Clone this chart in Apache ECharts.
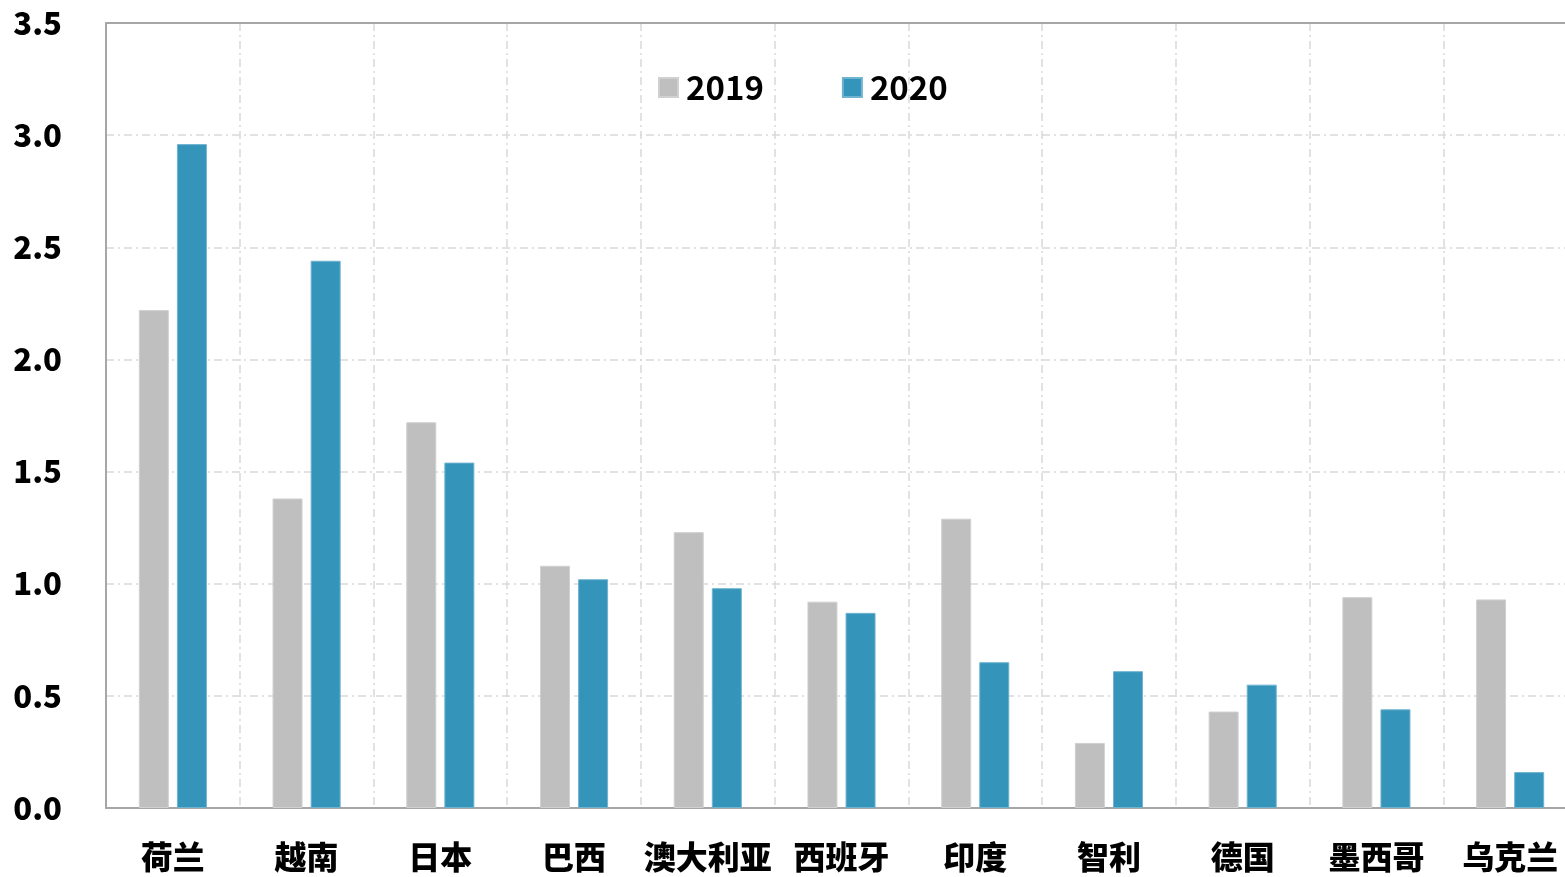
<!DOCTYPE html>
<html>
<head>
<meta charset="utf-8">
<script src="https://cdn.jsdelivr.net/npm/echarts@6/dist/echarts.min.js"></script>
<style>
  html, body { margin: 0; padding: 0; background: #fff; }
  #main { width: 1565px; height: 877px; }
</style>
</head>
<body>
<div id="main"></div>
<script>
// 国家
var countries = ["荷兰", "越南", "日本", "巴西", "澳大利亚", "西班牙", "印度", "智利", "德国", "墨西哥", "乌克兰"];
// 2019 年
var data2019 = [2.22, 1.38, 1.72, 1.08, 1.23, 0.92, 1.29, 0.29, 0.43, 0.94, 0.93];
// 2020 年
var data2020 = [2.96, 2.44, 1.54, 1.02, 0.98, 0.87, 0.65, 0.61, 0.55, 0.44, 0.16];

var fontFam = "'Noto Sans CJK SC', 'Open Sans', sans-serif";
var dashDot = [8, 4, 2, 4];

var chart = echarts.init(document.getElementById("main"));
var option = {
  backgroundColor: "#fff",
  animation: false,
  textStyle: { fontFamily: fontFam },
  legend: {
    left: 653,
    top: 66,
    itemWidth: 19,
    itemHeight: 19,
    itemGap: 78,
    icon: "rect",
    textStyle: {
      fontFamily: fontFam,
      fontSize: 33,
      fontWeight: "bold",
      color: "#000",
      padding: [0, 0, 0, 3]
    },
    data: ["2019", "2020"]
  },
  grid: {
    left: 106,
    top: 23,
    width: 1471,
    height: 785,
    containLabel: false,
    outerBoundsMode: "none"
  },
  xAxis: [
    {
      type: "category",
      data: countries,
      axisLine: { show: true, lineStyle: { color: "#A6A6A6", width: 2 } },
      axisTick: { show: false },
      splitLine: {
        show: true,
        lineStyle: { color: "#D9D9D9", width: 1.5, type: dashDot }
      },
      axisLabel: {
        fontFamily: fontFam,
        fontSize: 32,
        fontWeight: 900,
        color: "#000",
        margin: 33,
        interval: 0
      }
    },
    {
      // 顶部边框
      type: "category",
      position: "top",
      data: countries,
      axisLine: { show: true, lineStyle: { color: "#A6A6A6", width: 2 } },
      axisTick: { show: false },
      axisLabel: { show: false },
      splitLine: { show: false }
    }
  ],
  yAxis: {
    type: "value",
    min: 0,
    max: 3.5,
    interval: 0.5,
    axisLine: { show: true, lineStyle: { color: "#A6A6A6", width: 2 } },
    axisTick: { show: false },
    splitLine: {
      show: true,
      lineStyle: { color: "#D9D9D9", width: 1.5, type: dashDot }
    },
    axisLabel: {
      fontFamily: fontFam,
      fontSize: 31,
      fontWeight: 900,
      color: "#000",
      margin: 44,
      formatter: function (v) { return v.toFixed(1); }
    }
  },
  series: [
    {
      name: "2019",
      type: "bar",
      data: data2019,
      barWidth: 30,
      barGap: "27%",
      itemStyle: { color: "#BFBFBF", borderColor: "#D0D0D0", borderWidth: 1 }
    },
    {
      name: "2020",
      type: "bar",
      data: data2020,
      barWidth: 30,
      barGap: "27%",
      itemStyle: { color: "#3494BA", borderColor: "#6FB3D0", borderWidth: 1 }
    }
  ]
};
chart.setOption(option, true);
</script>
</body>
</html>
